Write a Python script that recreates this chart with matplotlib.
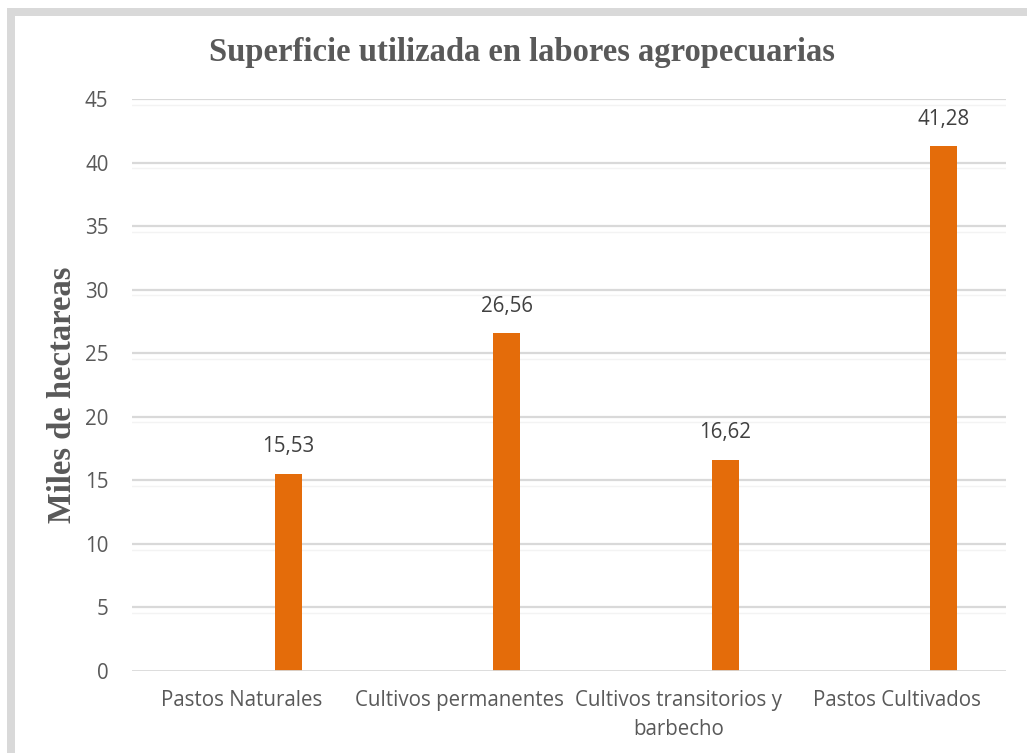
import matplotlib
matplotlib.use("Agg")
import matplotlib.pyplot as plt
from matplotlib.patches import Rectangle

categories = ["Pastos Naturales", "Cultivos permanentes", "Cultivos transitorios y\nbarbecho", "Pastos Cultivados"]
values = [15.53, 26.56, 16.62, 41.28]
value_labels = ["15,53", "26,56", "16,62", "41,28"]
yticks = [0, 5, 10, 15, 20, 25, 30, 35, 40, 45]

W, H = 1027, 753
fig = plt.figure(figsize=(W / 100, H / 100), dpi=100)
fig.patch.set_facecolor("white")

# grey frame (top and left)
fig.add_artist(Rectangle((7 / W, 1 - 16 / H), 1 - 7 / W, 8 / H, transform=fig.transFigure,
                         facecolor="#d9d9d9", edgecolor="none"))
fig.add_artist(Rectangle((7 / W, 0), 8 / W, 1 - 8 / H, transform=fig.transFigure,
                         facecolor="#d9d9d9", edgecolor="none"))

ax = fig.add_axes([132 / W, 1 - 671 / H, (1006 - 132) / W, (671 - 99) / H])
ax.set_xlim(-0.5, len(categories) - 0.5)
ax.set_ylim(0, 45)

txt = "#595959"
sans = ["Open Sans", "DejaVu Sans"]
serif = ["Liberation Serif", "DejaVu Serif"]

for y in yticks[1:]:
    ax.axhline(y, color="#d9d9d9", lw=1.6, zorder=1)
    ax.axhline(y - 0.45, color="#f3f3f3", lw=1.0, zorder=1)
ax.axhline(0, color="#d9d9d9", lw=2.0, zorder=3)

xs = [i + 0.215 for i in range(len(categories))]
bars = ax.bar(xs, values, width=0.124, color="#E46C0A", zorder=2)
for x, v, lab in zip(xs, values, value_labels):
    ax.text(x, v + 1.3, lab, ha="center", va="bottom", fontsize=14.8, color="#404040", family=sans)

ax.set_yticks(yticks)
ax.set_yticklabels([str(t) for t in yticks], fontsize=14.8, color=txt, family=sans)
ax.set_xticks(range(len(categories)))
ax.set_xticklabels(categories, fontsize=14.8, color=txt, family=sans, linespacing=1.5)
ax.tick_params(axis="y", length=0, pad=17)
ax.tick_params(axis="x", length=0, pad=14)
for s in ax.spines.values():
    s.set_visible(False)

ax.set_ylabel("Miles de hectareas", fontsize=23.5, fontweight="bold", color=txt, family=serif)
ax.yaxis.set_label_coords((78 - 132) / 874, (671 - 395) / 572)
fig.text(522 / W, 1 - 52 / H, "Superficie utilizada en labores agropecuarias",
         ha="center", va="center", fontsize=23.5, fontweight="bold", color=txt, family=serif)

fig.savefig("out.png", dpi=100, facecolor="white")
